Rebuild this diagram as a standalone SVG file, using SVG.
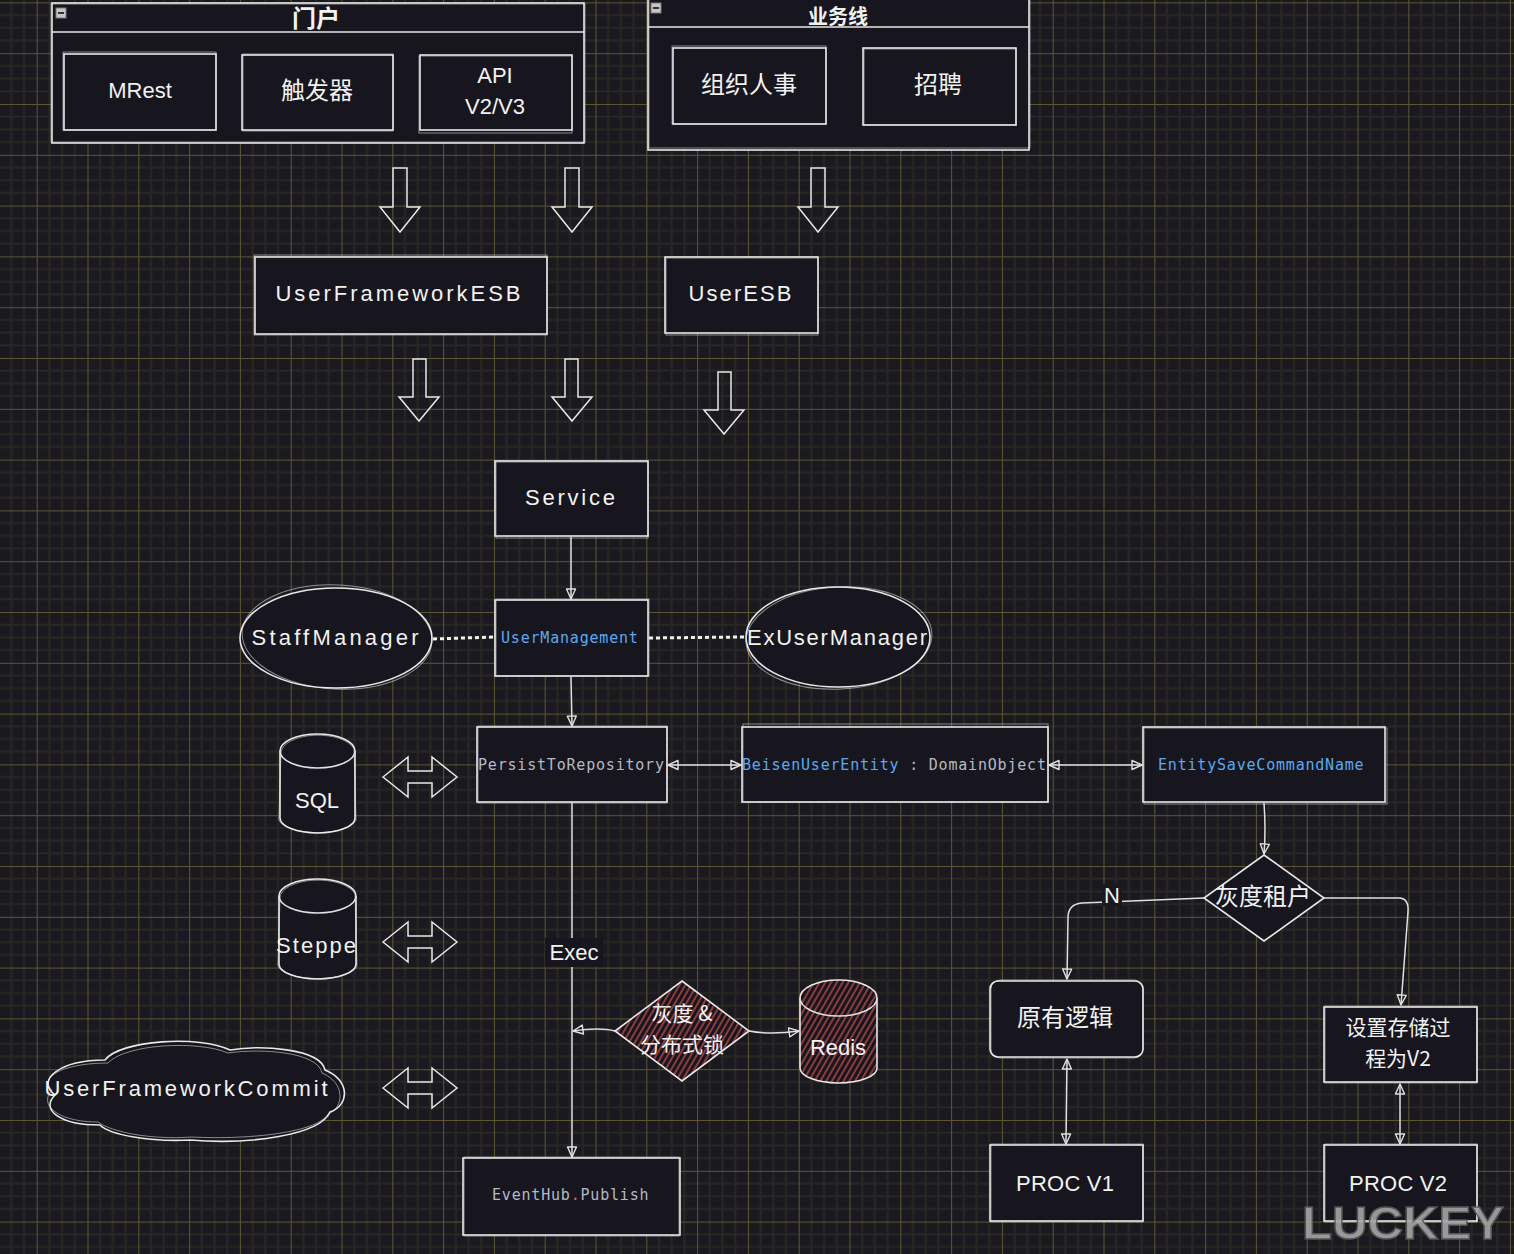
<svg xmlns="http://www.w3.org/2000/svg" width="1514" height="1254" viewBox="0 0 1514 1254">
<defs>
<pattern id="grid" patternUnits="userSpaceOnUse" x="36.7" y="2.4" width="50.8" height="50.8">
<rect width="50.8" height="50.8" fill="#1a1920"/>
<path d="M12.7 0V50.8M25.4 0V50.8M38.1 0V50.8M0 12.7H50.8M0 25.4H50.8M0 38.1H50.8" stroke="#292722" stroke-width="2"/>
<path d="M0.5 0V50.8M0 0.5H50.8" stroke="#5c5632" stroke-width="1"/>
</pattern>
<pattern id="hatch" patternUnits="userSpaceOnUse" width="5" height="5" patternTransform="rotate(30)">
<rect width="5" height="5" fill="#17161e"/>
<line x1="1" y1="0" x2="1" y2="5" stroke="#c9504c" stroke-width="1.3"/>
</pattern>
<marker id="ah" viewBox="0 0 12 12" refX="11" refY="6" markerWidth="12" markerHeight="12" markerUnits="userSpaceOnUse" orient="auto-start-reverse">
<path d="M1,1.5 L11,6 L1,10.5 Z" fill="none" stroke="#e0e0e0" stroke-width="1.4" stroke-linejoin="round"/>
</marker>
<style>
.n{fill:#17161e;stroke:#e8e8e8;stroke-width:1.6}
.n2{fill:none;stroke:#e8e8e8;stroke-width:1;opacity:0.55}
.h{fill:url(#hatch);stroke:#e8e8e8;stroke-width:1.6}
.sep{stroke:#e8e8e8;stroke-width:1.6}
.t{font-family:"Liberation Sans","Noto Sans CJK SC",sans-serif;font-size:22px;fill:#f2f2f2;text-anchor:middle}
.cjk{font-family:"Noto Sans CJK SC","Liberation Sans",sans-serif;font-size:24px}
.two{font-size:21px}
.ttl{font-weight:bold;font-size:24px}
.mono{font-family:"DejaVu Sans Mono","Liberation Mono",monospace;font-size:15px;letter-spacing:0.8px;text-anchor:start}
.blue{fill:#5aa9f2}
.gray{fill:#b3b9c5}
.red{fill:#e06060}
.c{fill:none;stroke:#e0e0e0;stroke-width:1.5}
.dot{fill:none;stroke:#f0f0f0;stroke-width:3;stroke-dasharray:4 3}
.blk{fill:none;stroke:#e8e8e8;stroke-width:1.5;stroke-linejoin:miter}
.ico{fill:#c6c6c6;stroke:#7a7a7a;stroke-width:1}
</style>
</defs>
<rect width="1514" height="1254" fill="url(#grid)"/>

<g id="portal">
<rect class="n" x="52" y="3" width="532" height="140"/>
<rect class="n2" x="51" y="4" width="534" height="138"/>
<line class="sep" x1="52" y1="32" x2="584" y2="32"/>
<rect class="ico" x="56" y="8" width="10" height="10"/><rect x="58" y="12" width="6" height="2" fill="#333"/>
<text class="t cjk ttl" x="316" y="27">门户</text>
</g>
<g id="mrest">
<rect class="n" x="64" y="54" width="152" height="76"/>
<rect class="n2" x="63" y="52" width="153" height="78"/>
<text class="t" x="140" y="98">MRest</text>
</g>
<g id="trigger">
<rect class="n" x="242" y="55" width="151" height="75"/>
<rect class="n2" x="243" y="54" width="150" height="77"/>
<text class="t cjk" x="317" y="99">触发器</text>
</g>
<g id="api">
<rect class="n" x="420" y="55" width="152" height="75"/>
<rect class="n2" x="419" y="56" width="153" height="77"/>
<text class="t" x="495" y="83">API<tspan x="495" dy="31">V2/V3</tspan></text>
</g>

<g id="biz">
<rect class="n" x="648" y="-2" width="381" height="152"/>
<rect class="n2" x="649" y="-1" width="381" height="149"/>
<line class="sep" x1="648" y1="27" x2="1029" y2="27"/>
<rect class="ico" x="651" y="3" width="10" height="10"/><rect x="653" y="7" width="6" height="2" fill="#333"/>
<text class="t cjk ttl" x="838" y="24" style="font-size:20px">业务线</text>
</g>
<g id="hr">
<rect class="n" x="673" y="48" width="153" height="76"/>
<rect class="n2" x="672" y="46" width="154" height="78"/>
<text class="t cjk" x="749" y="93">组织人事</text>
</g>
<g id="recruit">
<rect class="n" x="863" y="48" width="153" height="77"/>
<rect class="n2" x="864" y="49" width="152" height="76"/>
<text class="t cjk" x="938" y="93">招聘</text>
</g>

<g id="block-arrows">
<path class="blk" d="M393,168 H407 V207 H420 L400,232 L380,207 H393 Z"/>
<path class="blk" d="M565,168 H579 V207 H592 L572,232 L552,207 H565 Z"/>
<path class="blk" d="M811,168 H825 V207 H838 L818,232 L798,207 H811 Z"/>
<path class="blk" d="M413,359 H426 V397 H439 L419,421 L399,397 H413 Z"/>
<path class="blk" d="M565,359 H578 V397 H592 L572,421 L552,397 H565 Z"/>
<path class="blk" d="M718,372 H731 V410 H744 L724,434 L704,410 H718 Z"/>
<path class="blk" d="M383,777 L408,757 V771 H432 V757 L457,777 L432,797 V783 H408 V797 Z"/>
<path class="blk" d="M383,942 L408,922 V936 H432 V922 L457,942 L432,962 V948 H408 V962 Z"/>
<path class="blk" d="M383,1088 L408,1068 V1082 H432 V1068 L457,1088 L432,1108 V1094 H408 V1108 Z"/>
</g>

<g id="ufesb">
<rect class="n" x="255" y="257" width="292" height="77"/>
<rect class="n2" x="254" y="255" width="293" height="80"/>
<text class="t" x="398" y="301" textLength="245" lengthAdjust="spacing">UserFrameworkESB</text>
</g>
<g id="useresb">
<rect class="n" x="665" y="257" width="153" height="76"/>
<rect class="n2" x="666" y="258" width="152" height="77"/>
<text class="t" x="740" y="301" textLength="103" lengthAdjust="spacing">UserESB</text>
</g>
<g id="service">
<rect class="n" x="495" y="461" width="153" height="75"/>
<rect class="n2" x="496" y="462" width="152" height="76"/>
<text class="t" x="570" y="505" textLength="90" lengthAdjust="spacing">Service</text>
</g>

<g id="connectors">
<path class="c" d="M571,537 L571,599" marker-end="url(#ah)"/>
<path class="c" d="M571,677 L572,726" marker-end="url(#ah)"/>
<path class="dot" d="M433,639 L495,637"/>
<path class="dot" d="M649,638 L744,637"/>
<path class="c" d="M668,765 L741,765" marker-start="url(#ah)" marker-end="url(#ah)"/>
<path class="c" d="M1049,765 L1142,765" marker-start="url(#ah)" marker-end="url(#ah)"/>
<path class="c" d="M572,803 L572,1157" marker-end="url(#ah)"/>
<path class="c" d="M615,1031 Q600,1027 573,1031" marker-end="url(#ah)"/>
<path class="c" d="M749,1031 Q770,1035 799,1031" marker-end="url(#ah)"/>
<path class="c" d="M1264,803 Q1266,830 1264,854" marker-end="url(#ah)"/>
<path class="c" d="M1204,898 L1082,903 Q1068,904 1068,918 L1067,979" marker-end="url(#ah)"/>
<path class="c" d="M1324,898 L1400,898 Q1409,899 1408,912 L1401,1005" marker-end="url(#ah)"/>
<path class="c" d="M1067,1059 L1066,1144" marker-start="url(#ah)" marker-end="url(#ah)"/>
<path class="c" d="M1400,1084 L1400,1144" marker-start="url(#ah)" marker-end="url(#ah)"/>
<rect x="545" y="938" width="58" height="29" fill="#17161e"/>
<text class="t" x="574" y="960">Exec</text>
<rect x="1102" y="884" width="20" height="22" fill="#1a1920"/>
<text class="t" x="1112" y="903">N</text>
</g>

<g id="staffmanager">
<ellipse class="n" cx="336" cy="638" rx="96" ry="50"/>
<ellipse class="n2" cx="337" cy="637" rx="95" ry="52" transform="rotate(3 337 637)"/>
<text class="t" x="335" y="645" textLength="167" lengthAdjust="spacing">StaffManager</text>
</g>
<g id="usermanagement">
<rect class="n" x="495" y="600" width="153" height="76"/>
<rect class="n2" x="496" y="599" width="153" height="77"/>
<text class="mono blue" x="501" y="643">UserManagement</text>
</g>
<g id="exusermanager">
<ellipse class="n" cx="838" cy="637" rx="92" ry="50"/>
<ellipse class="n2" cx="839" cy="638" rx="93" ry="51" transform="rotate(-3 839 638)"/>
<text class="t" x="837" y="645" textLength="180" lengthAdjust="spacing">ExUserManager</text>
</g>

<g id="persist">
<rect class="n" x="477" y="727" width="190" height="75"/>
<rect class="n2" x="478" y="726" width="189" height="77"/>
<text class="mono gray" x="478" y="770">PersistToRepository</text>
</g>
<g id="beisenuserentity">
<rect class="n" x="742" y="727" width="306" height="75"/>
<rect class="n2" x="743" y="724" width="305" height="78"/>
<text class="mono" x="742" y="770"><tspan class="blue">BeisenUserEntity</tspan><tspan class="gray"> : DomainObject</tspan></text>
</g>
<g id="entitysave">
<rect class="n" x="1143" y="727" width="242" height="75"/>
<rect class="n2" x="1144" y="728" width="243" height="76"/>
<text class="mono blue" x="1158" y="770">EntitySaveCommandName</text>
</g>

<g id="sql">
<path class="n" d="M280,751 A37.5,17 0 0 1 355,751 L355,818 A37.5,15 0 0 1 280,818 Z"/>
<path class="c" d="M280,751 A37.5,17 0 0 0 355,751"/>
<path class="n2" d="M281,753 A37,18 0 0 1 354,749 L356,820 A37,14 0 0 1 279,816 Z"/>
<text class="t" x="317" y="808">SQL</text>
</g>
<g id="steppe">
<path class="n" d="M279,896 A38.5,17 0 0 1 356,896 L356,964 A38.5,15 0 0 1 279,964 Z"/>
<path class="c" d="M279,896 A38.5,17 0 0 0 356,896"/>
<path class="n2" d="M280,898 A38,18 0 0 1 355,894 L357,966 A38,14 0 0 1 278,962 Z"/>
<text class="t" x="316" y="953" textLength="80" lengthAdjust="spacing">Steppe</text>
</g>
<g id="commit">
<path class="n" d="M55,1095 C35,1080 60,1060 105,1060 C120,1040 200,1035 230,1050 C260,1045 320,1048 325,1070 C350,1080 350,1105 330,1112 C320,1135 250,1145 190,1140 C150,1142 110,1135 100,1125 C60,1125 40,1110 55,1095 Z"/>
<path class="n2" d="M52,1090 C38,1078 62,1063 108,1063 C125,1044 198,1040 228,1053 C262,1048 318,1052 322,1073 C346,1083 344,1108 328,1114 C318,1132 252,1140 192,1137 C150,1140 112,1132 98,1122 C58,1122 38,1105 52,1090 Z"/>
<text class="t" x="186" y="1096" textLength="283" lengthAdjust="spacing">UserFrameworkCommit</text>
</g>

<g id="lock">
<path class="h" d="M682,981 L749,1031 L682,1081 L615,1031 Z"/>
<text class="t cjk two" x="682" y="1021">灰度 &amp;<tspan x="682" dy="31">分布式锁</tspan></text>
</g>
<g id="redis">
<path class="h" d="M800,998 A38.5,18 0 0 1 877,998 L877,1068 A38.5,15 0 0 1 800,1068 Z"/>
<path class="c" d="M800,998 A38.5,18 0 0 0 877,998"/>
<text class="t" x="838" y="1055">Redis</text>
</g>
<g id="eventhub">
<rect class="n" x="463" y="1158" width="217" height="77"/>
<rect class="n2" x="464" y="1157" width="215" height="79"/>
<text class="mono gray" x="492" y="1200">EventHub<tspan class="red">.</tspan>Publish</text>
</g>

<g id="gray-tenant">
<path class="n" d="M1264,855 L1324,898 L1264,941 L1204,898 Z"/>
<text class="t cjk" x="1263" y="905">灰度租户</text>
</g>
<g id="legacy">
<rect class="n" x="990" y="981" width="153" height="76" rx="8"/>
<rect class="n2" x="991" y="980" width="152" height="78" rx="9"/>
<text class="t cjk" x="1065" y="1026">原有逻辑</text>
</g>
<g id="set-v2">
<rect class="n" x="1324" y="1007" width="153" height="75"/>
<rect class="n2" x="1325" y="1006" width="152" height="77"/>
<text class="t cjk two" x="1398" y="1035">设置存储过<tspan x="1398" dy="31">程为V2</tspan></text>
</g>
<g id="proc-v1">
<rect class="n" x="990" y="1145" width="153" height="76"/>
<rect class="n2" x="991" y="1144" width="152" height="78"/>
<text class="t" x="1065" y="1191" textLength="98" lengthAdjust="spacing">PROC V1</text>
</g>
<g id="proc-v2">
<rect class="n" x="1324" y="1145" width="153" height="76"/>
<rect class="n2" x="1325" y="1144" width="152" height="78"/>
<text class="t" x="1398" y="1191" textLength="98" lengthAdjust="spacing">PROC V2</text>
</g>

<text x="1302" y="1239" font-family="Liberation Sans, sans-serif" font-weight="bold" font-size="47" fill="#a6a6a6" stroke="#5a5a5a" stroke-width="1.5" opacity="0.9" textLength="202" lengthAdjust="spacingAndGlyphs">LUCKEY</text>
</svg>
